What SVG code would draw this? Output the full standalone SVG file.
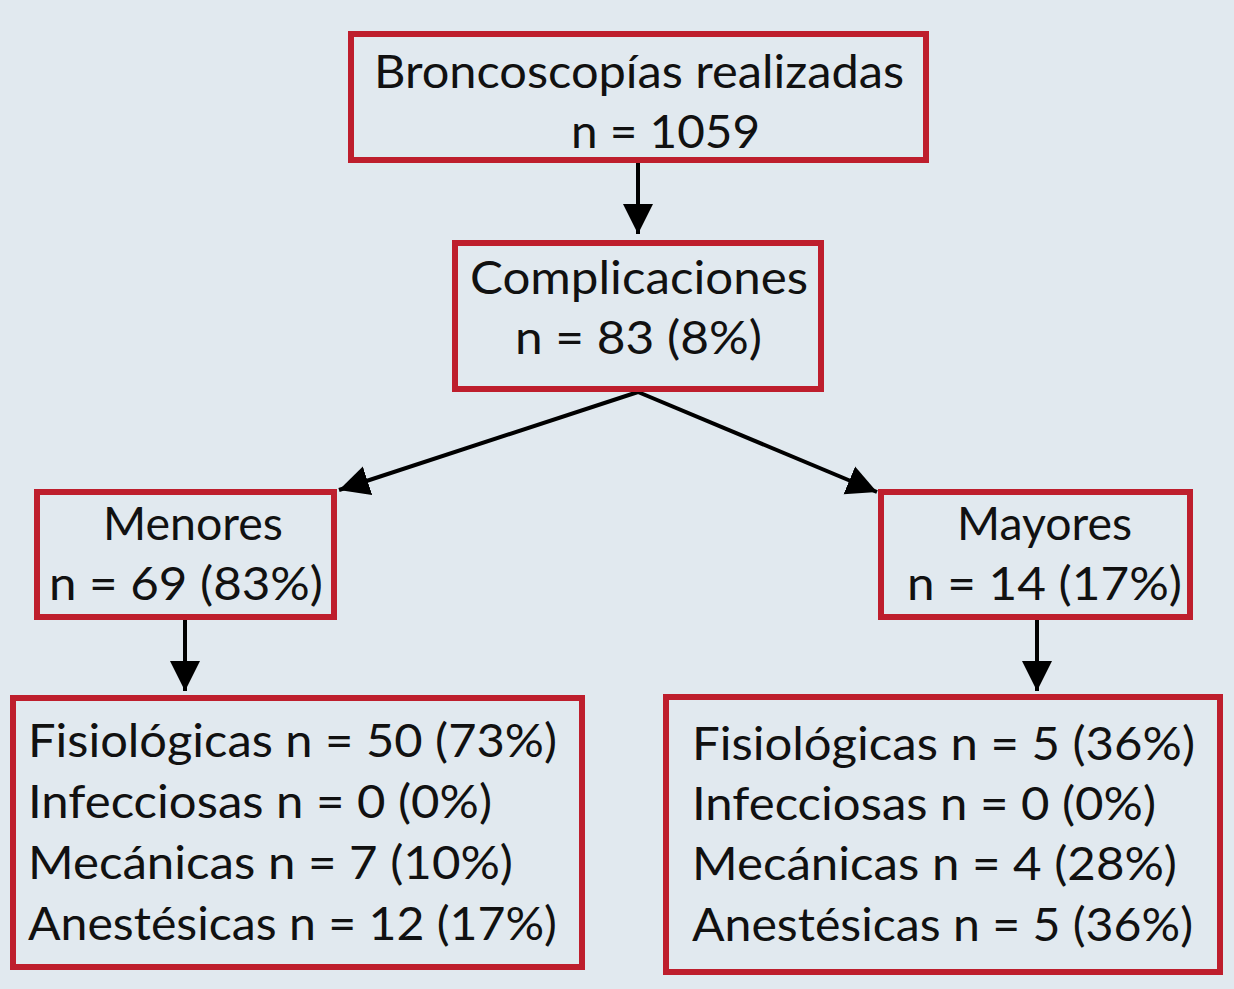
<svg xmlns="http://www.w3.org/2000/svg" width="1234" height="989" viewBox="0 0 1234 989">
<style>
.box{fill:none;stroke:#be1e2d;stroke-width:6}
.t{font-family:Lato,"Open Sans","Liberation Sans",sans-serif;font-size:46px;fill:#111}
.c{stroke:#000;stroke-width:4;fill:none}
</style>
<defs>
<marker id="ah" markerUnits="userSpaceOnUse" markerWidth="32" markerHeight="32" viewBox="0 0 32 32" refX="30" refY="16" orient="auto">
<path d="M0,1 L30,16 L0,31 Z" fill="#000"/>
</marker>
</defs>
<rect width="1234" height="989" fill="#e1e9ef"/>
<g id="connectors">
<line class="c" x1="638" y1="163" x2="638" y2="234" marker-end="url(#ah)"/>
<line class="c" x1="638" y1="392" x2="339" y2="490" marker-end="url(#ah)"/>
<line class="c" x1="638" y1="392" x2="877" y2="492" marker-end="url(#ah)"/>
<line class="c" x1="185" y1="620" x2="185" y2="691" marker-end="url(#ah)"/>
<line class="c" x1="1037" y1="620" x2="1037" y2="691" marker-end="url(#ah)"/>
</g>
<g id="n1">
<rect class="box" x="351" y="34" width="575" height="126"/>
<text class="t" x="374" y="88" textLength="530" lengthAdjust="spacingAndGlyphs">Broncoscopías realizadas</text>
<text class="t" x="571" y="148" textLength="189" lengthAdjust="spacingAndGlyphs">n = 1059</text>
</g>
<g id="n2">
<rect class="box" x="455" y="243" width="366" height="146"/>
<text class="t" x="470" y="294" textLength="338" lengthAdjust="spacingAndGlyphs">Complicaciones</text>
<text class="t" x="515" y="354" textLength="247" lengthAdjust="spacingAndGlyphs">n = 83 (8%)</text>
</g>
<g id="n3">
<rect class="box" x="37" y="492" width="297" height="125"/>
<text class="t" x="103" y="540" textLength="180" lengthAdjust="spacingAndGlyphs">Menores</text>
<text class="t" x="49" y="600" textLength="274" lengthAdjust="spacingAndGlyphs">n = 69 (83%)</text>
</g>
<g id="n4">
<rect class="box" x="881" y="492" width="309" height="125"/>
<text class="t" x="957" y="540" textLength="175" lengthAdjust="spacingAndGlyphs">Mayores</text>
<text class="t" x="907" y="600" textLength="275" lengthAdjust="spacingAndGlyphs">n = 14 (17%)</text>
</g>
<g id="n5">
<rect class="box" x="13" y="698" width="569" height="269"/>
<text class="t" x="28" y="757" textLength="529" lengthAdjust="spacingAndGlyphs">Fisiológicas n = 50 (73%)</text>
<text class="t" x="28" y="818" textLength="464" lengthAdjust="spacingAndGlyphs">Infecciosas n = 0 (0%)</text>
<text class="t" x="28" y="879" textLength="485" lengthAdjust="spacingAndGlyphs">Mecánicas n = 7 (10%)</text>
<text class="t" x="28" y="940" textLength="529" lengthAdjust="spacingAndGlyphs">Anestésicas n = 12 (17%)</text>
</g>
<g id="n6">
<rect class="box" x="666" y="697" width="554" height="275"/>
<text class="t" x="692" y="760" textLength="503" lengthAdjust="spacingAndGlyphs">Fisiológicas n = 5 (36%)</text>
<text class="t" x="692" y="820" textLength="464" lengthAdjust="spacingAndGlyphs">Infecciosas n = 0 (0%)</text>
<text class="t" x="692" y="880" textLength="485" lengthAdjust="spacingAndGlyphs">Mecánicas n = 4 (28%)</text>
<text class="t" x="692" y="941" textLength="501" lengthAdjust="spacingAndGlyphs">Anestésicas n = 5 (36%)</text>
</g>
</svg>
